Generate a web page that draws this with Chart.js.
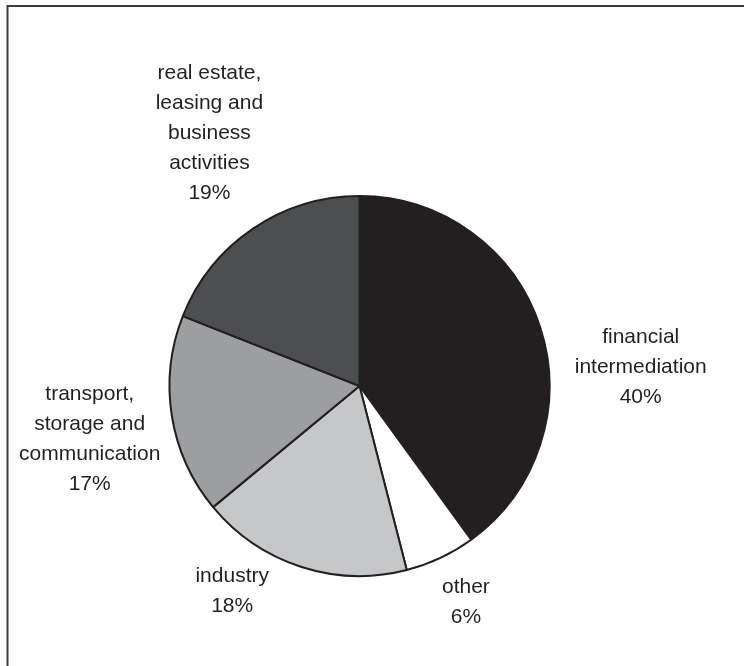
<!DOCTYPE html>
<html>
<head>
<meta charset="utf-8">
<script src="https://cdn.jsdelivr.net/npm/chart.js@4/dist/chart.umd.min.js"></script>
<style>
  html, body { margin: 0; padding: 0; background: #fff; }
  #wrap { position: relative; width: 744px; height: 666px; }
</style>
</head>
<body>
<div id="wrap"><canvas id="sectorPie"></canvas></div>
<script>
// Sector shares (%), clockwise from 12 o'clock
const sectors = ['financial intermediation', 'other', 'industry', 'transport, storage and communication', 'real estate, leasing and business activities'];
const shares = [40, 6, 18, 17, 19];
// Label lines drawn beside each slice
const labelLines = [
  ['financial', 'intermediation'],
  ['other'],
  ['industry'],
  ['transport,', 'storage and', 'communication'],
  ['real estate,', 'leasing and', 'business', 'activities']
];
const sliceColors = ['#231f20', '#ffffff', '#c6c7c9', '#9d9ea0', '#4d4e50'];

// where each label block sits, in pie radii from the centre
const labelAnchors = [
  [1.48, -0.10],
  [0.56, 1.14],
  [-0.67, 1.08],
  [-1.42, 0.28],
  [-0.79, -1.33]
];

const frame = {
  id: 'frame',
  beforeDraw(chart) {
    const ctx = chart.ctx;
    ctx.save();
    ctx.strokeStyle = '#3c3c3c';
    ctx.lineWidth = 2;
    ctx.beginPath();
    ctx.moveTo(7.5, chart.height);
    ctx.lineTo(7.5, 6);
    ctx.lineTo(chart.width, 6);
    ctx.stroke();
    ctx.restore();
  }
};

const sliceLabels = {
  id: 'sliceLabels',
  afterDatasetsDraw(chart) {
    const ctx = chart.ctx;
    const arcs = chart.getDatasetMeta(0).data;
    const lineH = 30;
    ctx.save();
    ctx.fillStyle = '#231f20';
    ctx.font = '21px "Liberation Sans", Arial, sans-serif';
    ctx.textAlign = 'center';
    ctx.textBaseline = 'middle';
    arcs.forEach((arc, i) => {
      const r = arc.outerRadius;
      const cx = arc.x + labelAnchors[i][0] * r;
      const cy = arc.y + labelAnchors[i][1] * r;
      const lines = labelLines[i].concat(shares[i] + '%');
      const top = cy - (lines.length - 1) * lineH / 2;
      lines.forEach((t, j) => ctx.fillText(t, cx, top + j * lineH));
    });
    ctx.restore();
  }
};

new Chart(document.getElementById('sectorPie'), {
  type: 'pie',
  data: {
    labels: sectors,
    datasets: [{
      data: shares,
      backgroundColor: sliceColors,
      borderColor: '#231f20',
      borderWidth: 2
    }]
  },
  options: {
    responsive: true,
    maintainAspectRatio: false,
    animation: false,
    layout: { padding: { top: 195, bottom: 89, left: 0, right: 25 } },
    plugins: {
      legend: { display: false },
      tooltip: { enabled: false }
    }
  },
  plugins: [frame, sliceLabels]
});
</script>
</body>
</html>
